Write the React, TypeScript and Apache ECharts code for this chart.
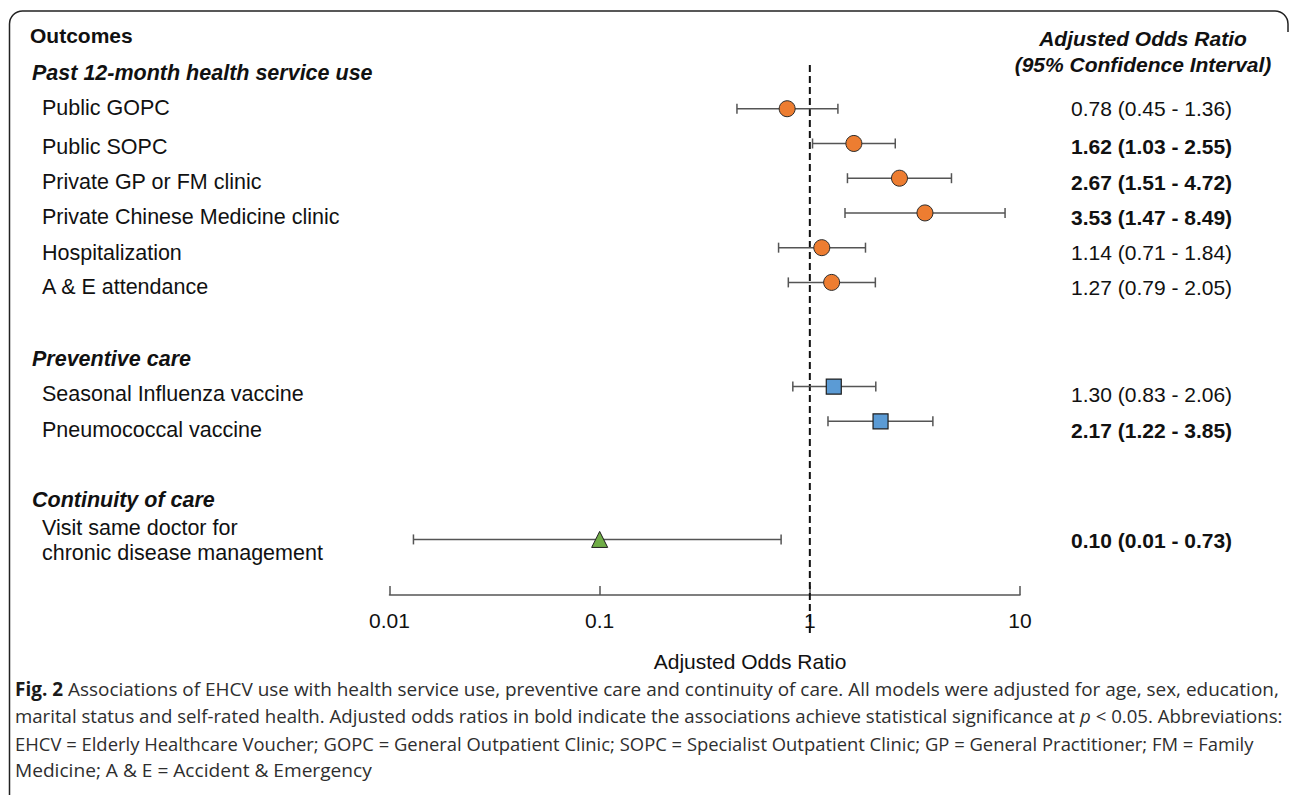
import React, { useEffect, useRef } from "react";
import * as echarts from "echarts";

// ---------- data ----------
const groupTitles = ["Past 12-month health service use", "Preventive care", "Continuity of care"];
const outcomes = [
  "Public GOPC",
  "Public SOPC",
  "Private GP or FM clinic",
  "Private Chinese Medicine clinic",
  "Hospitalization",
  "A & E attendance",
  "Seasonal Influenza vaccine",
  "Pneumococcal vaccine",
  "Visit same doctor for\nchronic disease management",
];
const outcomeGroup = [0, 0, 0, 0, 0, 0, 1, 1, 2];
const rowPos = [0, 1, 2, 3, 4, 5, 8, 9, 12.4];
const oddsRatio = [0.78, 1.62, 2.67, 3.53, 1.14, 1.27, 1.3, 2.17, 0.1];
const ciLow = [0.45, 1.03, 1.51, 1.47, 0.71, 0.79, 0.83, 1.22, 0.013];
const ciHigh = [1.36, 2.55, 4.72, 8.49, 1.84, 2.05, 2.06, 3.85, 0.73];
const significant = [false, true, true, true, false, false, false, true, true];
const xTicks = [0.01, 0.1, 1, 10];
const refValue = 1;
const captionLines = [
  "{b|Fig. 2} Associations of EHCV use with health service use, preventive care and continuity of care. All models were adjusted for age, sex, education,",
  "marital status and self-rated health. Adjusted odds ratios in bold indicate the associations achieve statistical significance at {i|p} < 0.05. Abbreviations:",
  "EHCV = Elderly Healthcare Voucher; GOPC = General Outpatient Clinic; SOPC = Specialist Outpatient Clinic; GP = General Practitioner; FM = Family",
  "Medicine; A & E = Accident & Emergency",
];

// ---------- layout (not data) ----------
const FONT = "'Liberation Sans', Arial, sans-serif";
const CAP_FONT = "'Open Sans', 'Noto Sans', sans-serif";
const CAP_SIZE = 19;
const textY = [108, 146.5, 182, 217, 252.5, 287, 394, 430, 540];
const groupY = [73, 359, 500];
const captionY = [689, 716, 743, 770];
const captionRight = [1279, 1282, 1255, 372];

function fmt(v: number) {
  return v.toFixed(2);
}

export default function App() {
  const ref = useRef<HTMLDivElement>(null);
  useEffect(() => {
    if (!ref.current) return;
    try {
      echarts.graphic.registerShape(
        "frame",
        echarts.graphic.extendPath(
          "M9.5 800 L9.5 24 A13 13 0 0 1 22.5 11 L1275 11 A13 13 0 0 1 1288 24 L1288 32",
          {}
        ) as any
      );
    } catch (e) {}
    const chart = echarts.init(ref.current, undefined, { renderer: "svg" });

    // caption horizontal compression to mimic the condensed caption font
    const ctx = document.createElement("canvas").getContext("2d")!;
    const measureLine = (t: string) => {
      let w = 0;
      const re = /\{(\w)\|([^}]*)\}/g;
      let last = 0;
      let m: RegExpExecArray | null;
      while ((m = re.exec(t))) {
        ctx.font = `${CAP_SIZE}px ${CAP_FONT}`;
        w += ctx.measureText(t.slice(last, m.index)).width;
        ctx.font = `${m[1] === "b" ? "bold" : "italic"} ${CAP_SIZE}px ${CAP_FONT}`;
        w += ctx.measureText(m[2]).width;
        last = m.index + m[0].length;
      }
      ctx.font = `${CAP_SIZE}px ${CAP_FONT}`;
      w += ctx.measureText(t.slice(last)).width;
      return w;
    };

    const circles: number[][] = [];
    const squares: number[][] = [];
    const triangles: number[][] = [];
    oddsRatio.forEach((v, i) => {
      const p = [v, rowPos[i]];
      if (outcomeGroup[i] === 0) circles.push(p);
      else if (outcomeGroup[i] === 1) squares.push(p);
      else triangles.push(p);
    });

    const graphics: any[] = [
      {
        type: "frame",
        x: 0,
        y: 0,
        silent: true,
        style: { stroke: "#222", lineWidth: 1.5, fill: "none" },
      },
      {
        type: "text",
        x: 30,
        y: 35,
        style: { text: "Outcomes", font: `bold 21px ${FONT}`, fill: "#111", textVerticalAlign: "middle" },
      },
      {
        type: "text",
        x: 1143,
        y: 51,
        style: {
          text: "Adjusted Odds Ratio\n(95% Confidence Interval)",
          font: `italic bold 21px ${FONT}`,
          lineHeight: 26,
          fill: "#111",
          textAlign: "center",
          textVerticalAlign: "middle",
        },
      },
      {
        type: "text",
        x: 750,
        y: 661,
        style: {
          text: "Adjusted Odds Ratio",
          font: `21px ${FONT}`,
          fill: "#111",
          textAlign: "center",
          textVerticalAlign: "middle",
        },
      },
    ];
    groupTitles.forEach((g, k) => {
      graphics.push({
        type: "text",
        x: 32,
        y: groupY[k],
        style: { text: g, font: `italic bold 21.5px ${FONT}`, fill: "#111", textVerticalAlign: "middle" },
      });
    });
    outcomes.forEach((o, i) => {
      graphics.push({
        type: "text",
        x: 42,
        y: textY[i],
        style: {
          text: o,
          font: `21.5px ${FONT}`,
          lineHeight: 25,
          fill: "#111",
          textVerticalAlign: "middle",
        },
      });
      graphics.push({
        type: "text",
        x: 1071,
        y: textY[i],
        style: {
          text: `${fmt(oddsRatio[i])} (${fmt(ciLow[i])} - ${fmt(ciHigh[i])})`,
          font: `${significant[i] ? "bold " : ""}21px ${FONT}`,
          fill: "#111",
          textVerticalAlign: "middle",
        },
      });
    });
    captionLines.forEach((t, k) => {
      const w = measureLine(t);
      const sx = w > 0 ? (captionRight[k] - 15) / w : 0.9;
      graphics.push({
        type: "text",
        x: 15,
        y: captionY[k],
        scaleX: sx,
        style: {
          text: t,
          fontFamily: CAP_FONT,
          fontSize: CAP_SIZE,
          fill: "#2e2e2e",
          textVerticalAlign: "middle",
          rich: {
            b: { fontFamily: CAP_FONT, fontSize: CAP_SIZE, fontWeight: "bold", fill: "#1a1a1a" },
            i: { fontFamily: CAP_FONT, fontSize: CAP_SIZE, fontStyle: "italic", fill: "#2e2e2e" },
          },
        },
      });
    });

    chart.setOption({
      animation: false,
      backgroundColor: "#fff",
      grid: { left: 389.5, right: 270, top: 74, height: 521, containLabel: false },
      xAxis: {
        type: "log",
        logBase: 10,
        min: xTicks[0],
        max: xTicks[xTicks.length - 1],
        splitLine: { show: false },
        axisLine: { show: true, onZero: false, lineStyle: { color: "#555", width: 1.5 } },
        axisTick: { show: true, inside: true, length: 9, lineStyle: { color: "#555", width: 1.5 } },
        minorTick: { show: false },
        axisLabel: {
          fontSize: 21,
          fontFamily: FONT,
          color: "#111",
          margin: 15,
          formatter: (v: number) => String(Number(Number(v).toPrecision(2))),
        },
      },
      yAxis: {
        type: "value",
        min: -1,
        max: 14,
        inverse: true,
        show: false,
        splitLine: { show: false },
      },
      graphic: graphics,
      series: [
        {
          type: "line",
          data: [
            [refValue, -1.26],
            [refValue, 15.15],
          ],
          clip: false,
          symbol: "none",
          silent: true,
          z: 1,
          lineStyle: { color: "#111", width: 2, type: [7, 4] },
        },
        {
          type: "custom",
          z: 2,
          data: oddsRatio.map((_, i) => [ciLow[i], ciHigh[i], rowPos[i]]),
          encode: { x: [0, 1], y: 2 },
          renderItem: (params: any, api: any) => {
            const a = api.coord([api.value(0), api.value(2)]);
            const b = api.coord([api.value(1), api.value(2)]);
            const st = { stroke: "#555", lineWidth: 1.5 };
            const h = 5;
            return {
              type: "group",
              children: [
                { type: "line", shape: { x1: a[0], y1: a[1], x2: b[0], y2: b[1] }, style: st },
                { type: "line", shape: { x1: a[0], y1: a[1] - h, x2: a[0], y2: a[1] + h }, style: st },
                { type: "line", shape: { x1: b[0], y1: b[1] - h, x2: b[0], y2: b[1] + h }, style: st },
              ],
            };
          },
        },
        {
          type: "scatter",
          z: 3,
          symbol: "circle",
          symbolSize: 16,
          data: circles,
          itemStyle: { color: "#ED7D31", borderColor: "#2b2b2b", borderWidth: 1, opacity: 1 },
        },
        {
          type: "scatter",
          z: 3,
          symbol: "rect",
          symbolSize: 15,
          data: squares,
          itemStyle: { color: "#5B9BD5", borderColor: "#1e1e1e", borderWidth: 1.2, opacity: 1 },
        },
        {
          type: "scatter",
          z: 3,
          symbol: "triangle",
          symbolSize: 16,
          data: triangles,
          itemStyle: { color: "#70AD47", borderColor: "#1e1e1e", borderWidth: 1, opacity: 1 },
        },
      ],
    });
    return () => chart.dispose();
  }, []);
  return (
    <div
      ref={ref}
      style={{ position: "fixed", left: 0, top: 0, width: 1290, height: 795, background: "#fff" }}
    />
  );
}
